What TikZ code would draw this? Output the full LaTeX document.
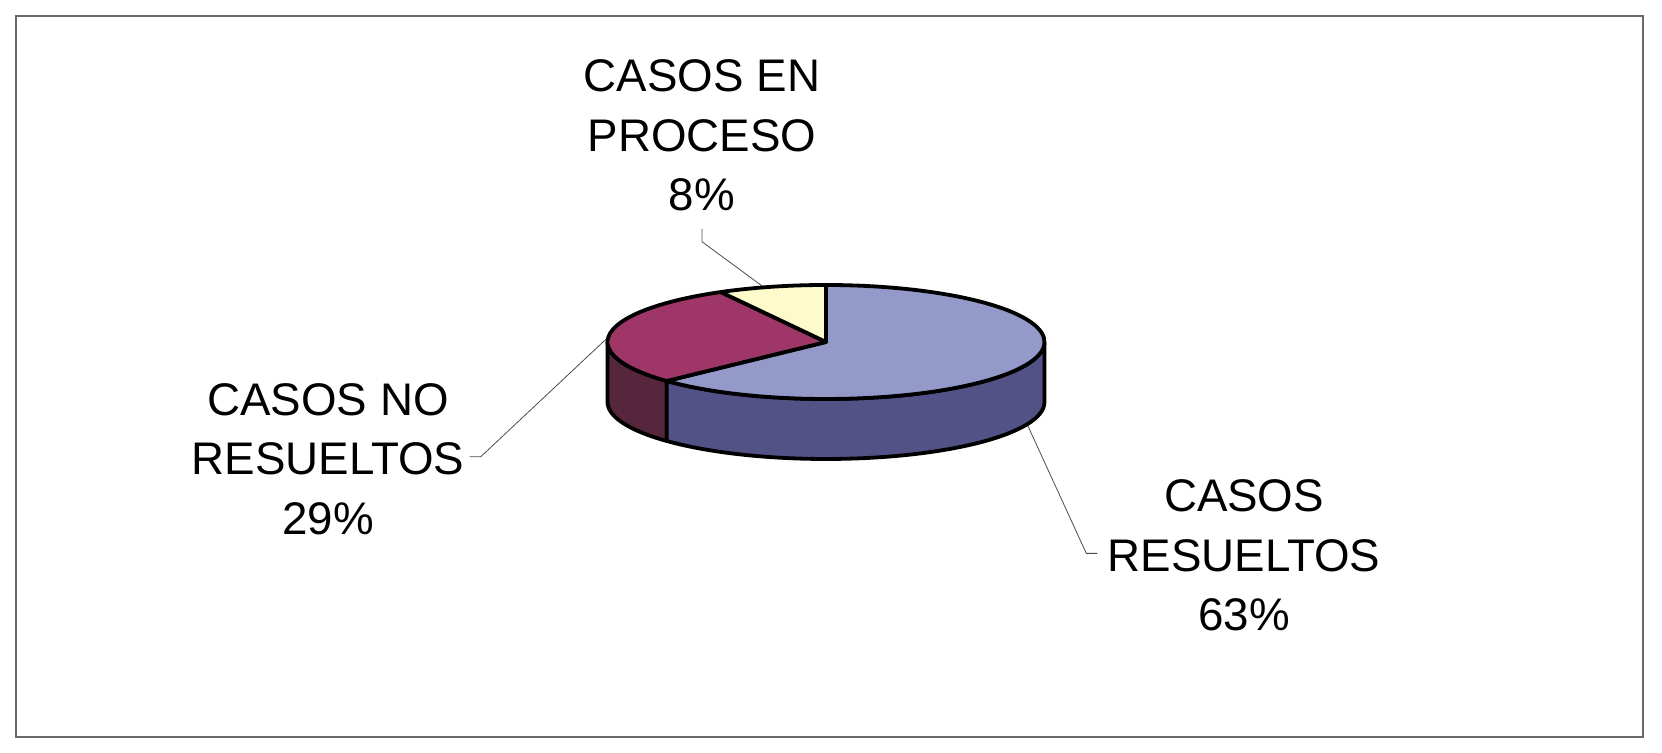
\documentclass[tikz,border=0pt]{standalone}
\usepackage{fontspec}
\setmainfont{Liberation Sans}
\usetikzlibrary{calc}

\definecolor{resTop}{RGB}{147,153,201}
\definecolor{resSide}{RGB}{82,82,135}
\definecolor{noresTop}{RGB}{158,55,104}
\definecolor{noresSide}{RGB}{86,38,60}
\definecolor{procTop}{RGB}{253,250,204}
\definecolor{frameGray}{RGB}{105,105,105}

\begin{document}
\begin{tikzpicture}[x=0.5pt, y=0.5pt,
   lbl/.style={align=center, inner sep=0pt, font=\fontsize{22.85}{29.75}\selectfont},
   rim/.style={line width=1.9pt, line join=round},
   leader/.style={line width=0.4pt, draw=black!70}]

\useasboundingbox (0,0) rectangle (1662,753);
\draw[frameGray, line width=1pt] (15.7,15.7) rectangle (1643,737.3);

 \coordinate (pc) at (826,411);

 % labels
 \node[lbl] (proc) at (702,617.3) {CASOS EN\\PROCESO\\8\%};
 \node[lbl] (nores) at (328,294.2) {CASOS NO\\RESUELTOS\\29\%};
 \node[lbl] (res) at (1244,197.6) {CASOS\\RESUELTOS\\63\%};

 \coordinate (proctip) at ($(pc)+(106.5:218.5 and 57)$);
 \coordinate (norestip) at ($(pc)+(175:218.5 and 57)$);
 \coordinate (restip) at ($(pc)+(0,-60)+(337:218.5 and 57)$);

\draw[leader] (proc.south) ++(0,-17) -- ++(0,-13) -- (proctip);
\draw[leader] (nores.east) ++(5,2) -- ++(11,0) -- (norestip);
\draw[leader] (res.west) ++(-10,2) -- ++(-11,0) -- (restip);

 % side walls
\draw[rim, fill=noresSide]
      ($(pc)+(180:218.5 and 57)$) arc (180:223.2:218.5 and 57)
      -- ++(0,-60) arc (223.2:180:218.5 and 57) -- cycle;
\draw[rim, fill=resSide]
      ($(pc)+(223.2:218.5 and 57)$) arc (223.2:360:218.5 and 57)
      -- ++(0,-60) arc (360:223.2:218.5 and 57) -- cycle;

 % top
\draw[rim, fill=resTop]
      (pc) -- ($(pc)+(223.2:218.5 and 57)$) arc (223.2:450:218.5 and 57) -- cycle;
\draw[rim, fill=noresTop]
      (pc) -- ($(pc)+(118.8:218.5 and 57)$) arc (118.8:223.2:218.5 and 57) -- cycle;
\draw[rim, fill=procTop]
      (pc) -- ($(pc)+(90:218.5 and 57)$) arc (90:118.8:218.5 and 57) -- cycle;

\end{tikzpicture}
\end{document}
